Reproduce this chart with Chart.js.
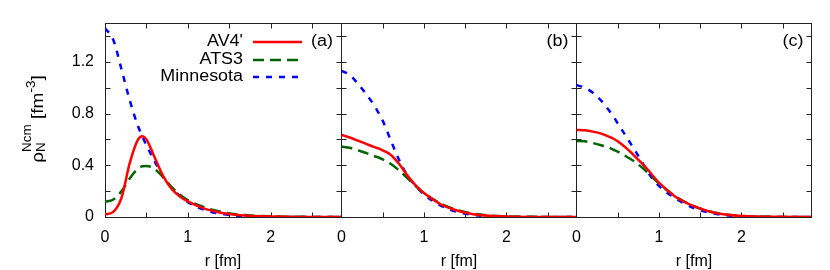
<!DOCTYPE html>
<html>
<head>
<meta charset="utf-8">
<script src="https://cdn.jsdelivr.net/npm/chart.js@4"></script>
<style>
  body { margin: 0; background: #fff; }
  #wrap { position: relative; width: 830px; height: 270px; overflow: hidden; }
  canvas { position: absolute; top: 0; left: 0; }
</style>
</head>
<body>
<div id="wrap">
  <canvas id="pa" width="350" height="270"></canvas>
  <canvas id="pb" width="270" height="270"></canvas>
  <canvas id="pc" width="270" height="270"></canvas>
</div>
<script>
// radius grid (fm), shared by all panels
const r = [0, 0.1, 0.2, 0.3, 0.4, 0.45, 0.5, 0.6, 0.7, 0.8, 0.9, 1.0, 1.2, 1.4, 1.6, 1.8, 2.0, 2.4, 2.85];

// panel (a)
const av4A  = [0.02, 0.04, 0.15, 0.42, 0.60, 0.625, 0.60, 0.46, 0.32, 0.22, 0.16, 0.12, 0.065, 0.033, 0.015, 0.007, 0.003, 0.0005, 0];
const ats3A = [0.118, 0.135, 0.2, 0.3, 0.375, 0.392, 0.395, 0.37, 0.31, 0.235, 0.175, 0.13, 0.075, 0.04, 0.02, 0.01, 0.005, 0.001, 0];
const minnA = [1.46, 1.37, 1.14, 0.9, 0.70, 0.625, 0.555, 0.43, 0.31, 0.23, 0.165, 0.115, 0.055, 0.025, 0.01, 0.004, 0.0015, 0.0002, 0];
// panel (b)
const av4B  = [0.635, 0.615, 0.59, 0.565, 0.54, 0.53, 0.515, 0.48, 0.41, 0.32, 0.245, 0.185, 0.1, 0.05, 0.022, 0.009, 0.004, 0.0005, 0];
const ats3B = [0.545, 0.535, 0.515, 0.495, 0.47, 0.46, 0.445, 0.41, 0.36, 0.3, 0.24, 0.185, 0.105, 0.055, 0.025, 0.011, 0.005, 0.001, 0];
const minnB = [1.13, 1.1, 1.03, 0.95, 0.86, 0.805, 0.745, 0.59, 0.44, 0.32, 0.24, 0.175, 0.09, 0.04, 0.016, 0.006, 0.002, 0.0003, 0];
// panel (c)
const av4C  = [0.673, 0.67, 0.66, 0.645, 0.62, 0.605, 0.585, 0.535, 0.475, 0.41, 0.34, 0.265, 0.157, 0.09, 0.045, 0.02, 0.008, 0.001, 0];
const ats3C = [0.588, 0.585, 0.572, 0.555, 0.535, 0.52, 0.505, 0.47, 0.43, 0.38, 0.32, 0.26, 0.16, 0.09, 0.046, 0.021, 0.009, 0.001, 0];
const minnC = [1.02, 1.0, 0.96, 0.9, 0.82, 0.775, 0.725, 0.625, 0.525, 0.42, 0.315, 0.24, 0.145, 0.075, 0.035, 0.014, 0.005, 0.0005, 0];

const seriesNames = ["AV4'", "ATS3", "Minnesota"];
const panelTags = ["(a)", "(b)", "(c)"];

const xTicks  = [0, 0.5, 1, 1.5, 2, 2.5];
const xLabels = ["0", "", "1", "", "2", ""];
const yTicks  = [0, 0.2, 0.4, 0.6, 0.8, 1.0, 1.2, 1.4];
const yLabels = ["0", "", "0.4", "", "0.8", "", "1.2", ""];
const xMax = 2.85, yMax = 1.5;

const colors = ["rgb(255,0,0)", "rgb(0,100,0)", "rgb(0,0,255)"];
const dashes = [[], [11, 6], [6, 7]];
const FONT = '"Liberation Sans", Arial, sans-serif';
const STRETCH = 1.12; // the original lettering is a bit wide

Chart.defaults.font.family = FONT;
Chart.defaults.font.size = 16;
Chart.defaults.color = "#000";

// box + inward ticks on all four sides
const framePlugin = {
  id: "frame",
  beforeDatasetsDraw(chart) {
    const { ctx, chartArea: a, scales: { x, y } } = chart;
    const L = Math.round(a.left) + 0.5, R = Math.round(a.right) + 0.5;
    const T = Math.round(a.top) + 0.5, B = Math.round(a.bottom) + 0.5;
    ctx.save();
    ctx.strokeStyle = "#222";
    ctx.lineWidth = 1;
    ctx.beginPath();
    xTicks.forEach(v => {
      const px = Math.round(x.getPixelForValue(v)) + 0.5;
      ctx.moveTo(px, B); ctx.lineTo(px, B - 5);
      ctx.moveTo(px, T); ctx.lineTo(px, T + 5);
    });
    yTicks.forEach(v => {
      const py = Math.round(y.getPixelForValue(v)) + 0.5;
      ctx.moveTo(L, py); ctx.lineTo(L + 5, py);
      ctx.moveTo(R, py); ctx.lineTo(R - 5, py);
    });
    ctx.stroke();
    ctx.strokeRect(L, T, R - L, B - T);
    ctx.restore();
  }
};

function wideText(ctx, text, xRight, y) {
  ctx.save();
  ctx.translate(xRight, y);
  ctx.scale(STRETCH, 1);
  ctx.textAlign = "right";
  ctx.textBaseline = "middle";
  ctx.fillText(text, 0, 0);
  ctx.restore();
}

// "(a)" etc
const tagPlugin = {
  id: "tag",
  afterDatasetsDraw(chart, args, opts) {
    const { ctx, chartArea: a } = chart;
    ctx.save();
    ctx.font = "16px " + FONT;
    ctx.fillStyle = "#000";
    wideText(ctx, opts.text, a.right - 8, 42);
    ctx.restore();
  }
};

// legend: text right aligned, sample line to the right
const keyPlugin = {
  id: "key",
  afterDatasetsDraw(chart) {
    const { ctx, chartArea: a } = chart;
    const rows = [42, 60, 77];
    ctx.save();
    ctx.font = "16px " + FONT;
    chart.data.datasets.forEach((ds, i) => {
      ctx.fillStyle = "#000";
      wideText(ctx, ds.label, a.left + 138, rows[i]);
      ctx.strokeStyle = ds.borderColor;
      ctx.lineWidth = ds.borderWidth;
      ctx.setLineDash(ds.borderDash);
      ctx.beginPath();
      ctx.moveTo(a.left + 148, rows[i]);
      ctx.lineTo(a.left + 197, rows[i]);
      ctx.stroke();
    });
    ctx.restore();
  }
};

// rho_N^Ncm [fm^-3], rotated, with sub/superscripts
const yTitlePlugin = {
  id: "ytitle",
  afterDraw(chart) {
    const { ctx, chartArea: a } = chart;
    const big = "17px " + FONT, small = "12px " + FONT;
    const w = (t, f) => { ctx.font = f; return ctx.measureText(t).width; };
    const stackW = Math.max(w("N", small), w("Ncm", small));
    const total = w("ρ", big) + stackW + w(" [fm", big) + w("-3", small) + w("]", big);
    ctx.save();
    ctx.translate(a.left - 62, 119);
    ctx.rotate(-Math.PI / 2);
    ctx.scale(STRETCH, 1);
    ctx.fillStyle = "#000";
    ctx.textAlign = "left";
    ctx.textBaseline = "alphabetic";
    let x = -total / 2;
    ctx.font = big; ctx.fillText("ρ", x, 0); x += w("ρ", big);
    ctx.font = small; ctx.fillText("N", x, 2); ctx.fillText("Ncm", x, -12); x += stackW;
    ctx.font = big; ctx.fillText(" [fm", x, 0); x += w(" [fm", big);
    ctx.font = small; ctx.fillText("-3", x, -8); x += w("-3", small);
    ctx.font = big; ctx.fillText("]", x, 0);
    ctx.restore();
  }
};

function makePanel(id, series, tag, first, padL, padR) {
  const datasets = series.map((vals, i) => ({
    label: seriesNames[i],
    data: r.map((rv, j) => ({ x: rv, y: vals[j] })),
    borderColor: colors[i],
    borderDash: dashes[i],
    borderWidth: 2.5,
    borderCapStyle: "butt",
    pointRadius: 0,
    cubicInterpolationMode: "monotone",
    fill: false
  }));
  const plugins = [framePlugin, tagPlugin];
  if (first) plugins.push(keyPlugin, yTitlePlugin);
  return new Chart(document.getElementById(id), {
    type: "line",
    data: { datasets },
    options: {
      responsive: false,
      animation: false,
      layout: { autoPadding: false, padding: { left: padL, right: padR, top: 23, bottom: 0 } },
      plugins: { legend: { display: false }, tooltip: { enabled: false }, tag: { text: tag } },
      scales: {
        x: {
          type: "linear", min: 0, max: xMax,
          grid: { display: false, drawTicks: false },
          border: { display: false },
          afterBuildTicks: s => { s.ticks = xTicks.map(v => ({ value: v })); },
          afterFit: s => { s.height = 53; },
          ticks: { padding: 11, maxRotation: 0, autoSkip: false, callback: (v, i) => xLabels[i] },
          title: { display: true, text: "r [fm]", padding: { top: 0, bottom: -1 } }
        },
        y: {
          type: "linear", min: 0, max: yMax,
          display: first,
          grid: { display: false, drawTicks: false },
          border: { display: false },
          afterBuildTicks: s => { s.ticks = yTicks.map(v => ({ value: v })); },
          afterFit: s => { s.width = first ? 105 : 0; },
          ticks: { padding: 11, autoSkip: false, callback: (v, i) => yLabels[i] }
        }
      }
    },
    plugins
  });
}

// slide each canvas so its plot box lands on the page where the original one is
function place(chart, left, right) {
  const a = chart.chartArea;
  chart.canvas.style.left = Math.round(left - a.left) + "px";
  chart.options.layout.padding.right += (a.right - a.left) - (right - left);
  chart.update();
}

const pa = makePanel("pa", [av4A, ats3A, minnA], panelTags[0], true, 0, 9);
const pb = makePanel("pb", [av4B, ats3B, minnB], panelTags[1], false, 11, 20);
const pc = makePanel("pc", [av4C, ats3C, minnC], panelTags[2], false, 11, 20);
place(pa, 105, 341);
place(pb, 341, 576);
place(pc, 576, 811);
</script>
</body>
</html>
